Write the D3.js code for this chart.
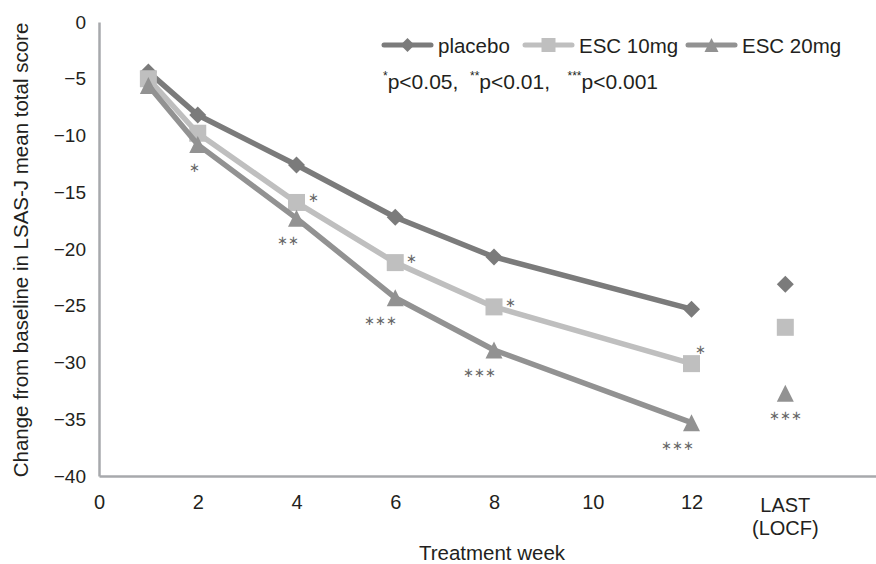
<!DOCTYPE html>
<html>
<head>
<meta charset="utf-8">
<script src="https://cdn.jsdelivr.net/npm/d3@7"></script>
<style>
  body { margin: 0; background: #fff; }
  text { font-family: "Liberation Sans", Arial, sans-serif; fill: #231f20; }
</style>
</head>
<body>
<div id="chart"></div>
<script>
'use strict'
// data
const weeks = [1, 2, 4, 6, 8, 12]
const lastPos = 13.9   // where the LAST (LOCF) column sits on the week axis
const placebo = [-4.4, -8.2, -12.6, -17.2, -20.7, -25.3]
const esc10 = [-5.0, -9.8, -15.9, -21.2, -25.1, -30.1]
const esc20 = [-5.6, -10.8, -17.3, -24.3, -28.9, -35.3]
const lastValues = [-23.1, -26.9, -32.7]
const sig10 = ['', '', '*', '*', '*', '*']
const sig20 = ['', '*', '**', '***', '***', '***']
const sigLast = ['', '', '***']
const seriesNames = ['placebo', 'ESC 10mg', 'ESC 20mg']
const xTicks = [0, 2, 4, 6, 8, 10, 12]
const yTicks = [0, -5, -10, -15, -20, -25, -30, -35, -40]

const width = 876
const height = 564
const colors = ['#7b7b7b', '#bfbfbf', '#929292']

const x = d3.scaleLinear().domain([0, 16]).range([99, 889])
const y = d3.scaleLinear().domain([-40, 0]).range([476, 22])

// custom marker shapes (Excel style)
const diamond = {
  draw(ctx, size) {
    let r = Math.sqrt(size) / 2
    ctx.moveTo(0, -r); ctx.lineTo(r, 0); ctx.lineTo(0, r); ctx.lineTo(-r, 0); ctx.closePath()
  }
}
const triangle = {
  draw(ctx, size) {
    let w = Math.sqrt(size) / 2
    ctx.moveTo(0, -w); ctx.lineTo(w, w); ctx.lineTo(-w, w); ctx.closePath()
  }
}
const shapes = [diamond, d3.symbolSquare, triangle]

let svg = d3.select('#chart').append('svg')
  .attr('width', width)
  .attr('height', height)

// axes
let yAxis = d3.axisLeft(y).tickValues(yTicks).tickSize(0).tickPadding(13)
let gy = svg.append('g')
  .attr('transform', 'translate(' + x(0) + ',0)')
  .call(yAxis)
gy.selectAll('text').style('font-size', '19px')
gy.select('.domain').attr('stroke', '#a7a9ac').attr('stroke-width', 2.5)

let xAxis = d3.axisBottom(x).tickValues(xTicks).tickSize(0).tickPadding(19)
  .tickFormat(d3.format('d'))
let gx = svg.append('g')
  .attr('transform', 'translate(0,' + y(-40) + ')')
  .call(xAxis)
gx.selectAll('text').style('font-size', '20px')
gx.select('.domain').attr('stroke', '#a7a9ac').attr('stroke-width', 2.5)

svg.append('text')
  .attr('x', x(lastPos)).attr('y', 512)
  .attr('text-anchor', 'middle').style('font-size', '20px')
  .text('LAST')
svg.append('text')
  .attr('x', x(lastPos)).attr('y', 535)
  .attr('text-anchor', 'middle').style('font-size', '20px')
  .text('(LOCF)')

svg.append('text')
  .attr('x', 492).attr('y', 560)
  .attr('text-anchor', 'middle').style('font-size', '20.5px')
  .text('Treatment week')

svg.append('text')
  .attr('text-anchor', 'middle')
  .attr('transform', 'translate(28,' + 250 + ')rotate(-90)')
  .style('font-size', '20.5px')
  .text('Change from baseline in LSAS-J mean total score')

// lines and markers
let allSeries = [placebo, esc10, esc20]
let line = d3.line()
  .x(function (d, i) { return x(weeks[i]) })
  .y(function (d) { return y(d) })

allSeries.forEach(function (vals, s) {
  svg.append('path')
    .datum(vals)
    .attr('d', line)
    .attr('fill', 'none')
    .attr('stroke', colors[s])
    .attr('stroke-width', 5.5)
    .attr('stroke-linejoin', 'round')

  svg.selectAll('.m' + s)
    .data(vals.concat([lastValues[s]]))
    .enter()
    .append('path')
    .attr('class', 'm' + s)
    .attr('d', d3.symbol(shapes[s], 289))
    .attr('transform', function (d, i) {
      let wx = i < weeks.length ? weeks[i] : lastPos
      return 'translate(' + x(wx) + ',' + y(d) + ')'
    })
    .attr('fill', colors[s])
})

// significance marks
function stars(str, px, py, anchor) {
  if (!str) return
  svg.append('text')
    .attr('x', px).attr('y', py)
    .attr('text-anchor', anchor)
    .style('font-size', '13px')
    .style('fill', '#666')
    .text(str.replace(/\*/g, '\u2217'))
}
weeks.forEach(function (w, i) {
  let last = i === weeks.length - 1
  stars(sig10[i], x(w) + (last ? 3 : 11), y(esc10[i]) + (last ? -10 : 0), 'start')
  stars(sig20[i], x(w) + 2, y(esc20[i]) + 27, 'end')
})
stars(sigLast[2], x(lastPos), y(lastValues[2]) + 27, 'middle')

// legend
let legendX = [384, 525, 688]
let legend = svg.selectAll('.legend')
  .data(seriesNames)
  .enter()
  .append('g')
  .attr('class', 'legend')
  .attr('transform', function (d, i) { return 'translate(' + legendX[i] + ',45)' })

legend.append('line')
  .attr('x1', 0).attr('x2', 47)
  .attr('stroke', function (d, i) { return colors[i] })
  .attr('stroke-width', 5)
  .attr('stroke-linecap', 'round')
legend.append('path')
  .attr('d', function (d, i) { return d3.symbol(shapes[i], 196)() })
  .attr('transform', 'translate(23.5,0)')
  .attr('fill', function (d, i) { return colors[i] })
legend.append('text')
  .attr('x', 54).attr('y', 8)
  .style('font-size', '20.5px')
  .text(function (d) { return d })

// p-value note
let note = svg.append('text')
  .attr('x', 383).attr('y', 89)
  .style('font-size', '21px')
let notes = [['*', 'p<0.05,\u00a0\u00a0'], ['**', 'p<0.01,\u00a0\u00a0\u00a0'], ['***', 'p<0.001']]
notes.forEach(function (n) {
  note.append('tspan').attr('dy', -9).style('font-size', '12px').text(n[0])
  note.append('tspan').attr('dy', 9).text(n[1])
})
</script>
</body>
</html>
